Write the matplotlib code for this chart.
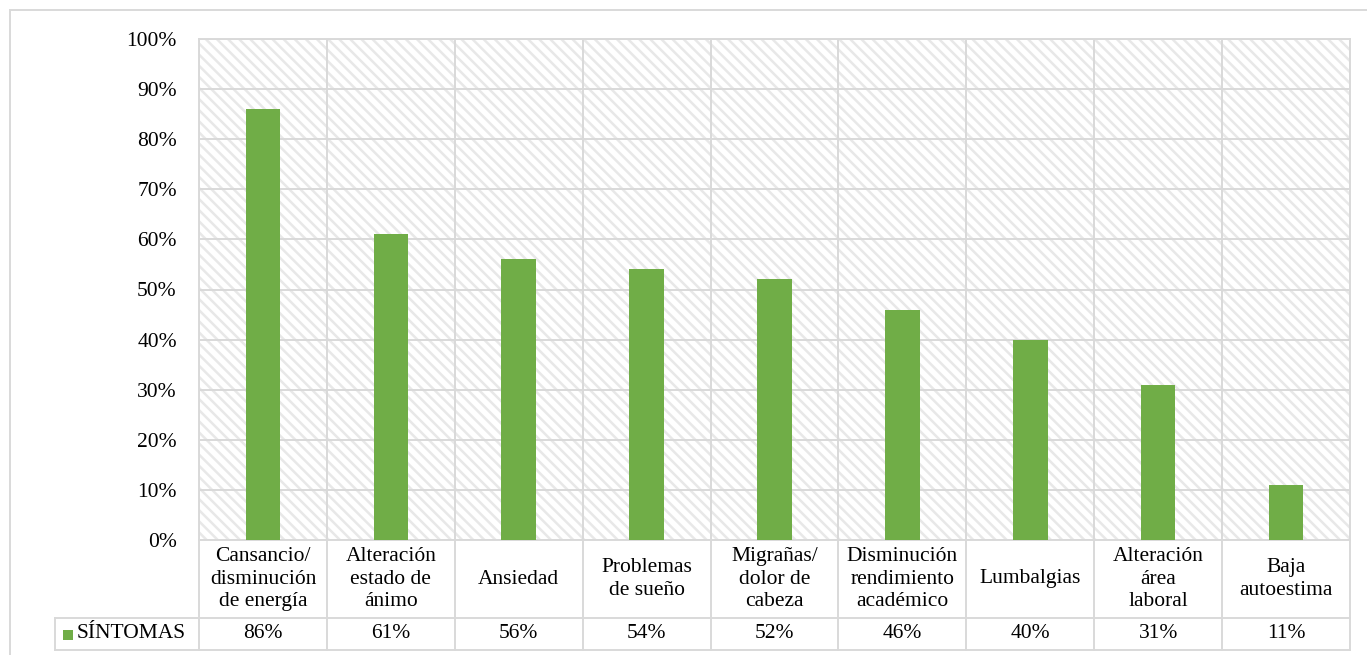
import matplotlib
matplotlib.use("Agg")
import matplotlib.pyplot as plt
from matplotlib.patches import Rectangle
from matplotlib.lines import Line2D
from matplotlib.transforms import blended_transform_factory

categories = [
    "Cansancio/\ndisminución\nde energía",
    "Alteración\nestado de\nánimo",
    "Ansiedad",
    "Problemas\nde sueño",
    "Migrañas/\ndolor de\ncabeza",
    "Disminución\nrendimiento\nacadémico",
    "Lumbalgias",
    "Alteración\nárea\nlaboral",
    "Baja\nautoestima",
]
values = [86, 61, 56, 54, 52, 46, 40, 31, 11]
series_name = "SÍNTOMAS"
yticks = [0, 10, 20, 30, 40, 50, 60, 70, 80, 90, 100]

GREEN = "#70ad47"
GRID = "#d9d9d9"
HATCH = "#e8e8e8"
FONT = "Liberation Serif"
FS = 15.5

plt.rcParams["font.family"] = [FONT, "DejaVu Serif"]
plt.rcParams["hatch.color"] = HATCH
plt.rcParams["hatch.linewidth"] = 1.8

W, H = 1367, 655
fig = plt.figure(figsize=(W / 100, H / 100), dpi=100)

def fx(px):
    return px / W

def fy(py):
    return 1 - py / H

left, right, top, bottom = 199, 1350, 39, 540
ax = fig.add_axes([fx(left), fy(bottom), fx(right) - fx(left), fy(top) - fy(bottom)])

# hatched plot background
ax.set_facecolor("white")
ax.add_patch(Rectangle((0, 0), 1, 1, transform=ax.transAxes, facecolor="white",
                       edgecolor=HATCH, linewidth=0, hatch="\\\\\\", zorder=0))

x = list(range(len(categories)))
ax.bar(x, values, width=0.27, color=GREEN, zorder=3)

ax.set_xlim(-0.5, len(categories) - 0.5)
ax.set_ylim(0, 100)
ax.set_yticks(yticks)
ax.set_yticklabels([f"{v}%" for v in yticks], fontsize=FS)
ax.tick_params(axis="y", length=0, pad=16)
ax.set_xticks([i - 0.5 for i in range(len(categories) + 1)])
ax.set_xticklabels([])
ax.tick_params(axis="x", length=0)
ax.grid(True, color=GRID, linewidth=1.4, zorder=1)
ax.set_axisbelow(True)
for s in ax.spines.values():
    s.set_color(GRID)
    s.set_linewidth(1.4)

# data table under the plot
tr = blended_transform_factory(ax.transData, fig.transFigure)
y_top, y_mid, y_bot = fy(540), fy(618), fy(650)
n = len(categories)
for i in range(n + 1):
    fig.add_artist(Line2D([i - 0.5, i - 0.5], [y_bot, y_top], transform=tr,
                          color=GRID, linewidth=1.4))
for yy in (y_mid, y_bot):
    fig.add_artist(Line2D([-0.5, n - 0.5], [yy, yy], transform=tr,
                          color=GRID, linewidth=1.4))
# legend cell
for yy in (y_mid, y_bot):
    fig.add_artist(Line2D([fx(55), fx(left)], [yy, yy], transform=fig.transFigure,
                          color=GRID, linewidth=1.4))
fig.add_artist(Line2D([fx(55), fx(55)], [y_bot, y_mid], transform=fig.transFigure,
                      color=GRID, linewidth=1.4))
fig.add_artist(Rectangle((fx(63), fy(640)), fx(10), 10 / H, transform=fig.transFigure,
                         facecolor=GREEN, edgecolor="none"))
fig.text(fx(77), (y_mid + y_bot) / 2, series_name, fontsize=FS, ha="left", va="center")

for i, (c, v) in enumerate(zip(categories, values)):
    fig.text(i, (y_top + y_mid) / 2, c, transform=tr, fontsize=FS, ha="center",
             va="center", linespacing=1.22, multialignment="center")
    fig.text(i, (y_mid + y_bot) / 2, f"{v}%", transform=tr, fontsize=FS,
             ha="center", va="center")

# outer chart border
fig.add_artist(Rectangle((fx(10), -0.1), 1.1, fy(10) + 0.1, transform=fig.transFigure,
                         facecolor="none", edgecolor=GRID, linewidth=1.4))

fig.savefig("out.png", dpi=100)
